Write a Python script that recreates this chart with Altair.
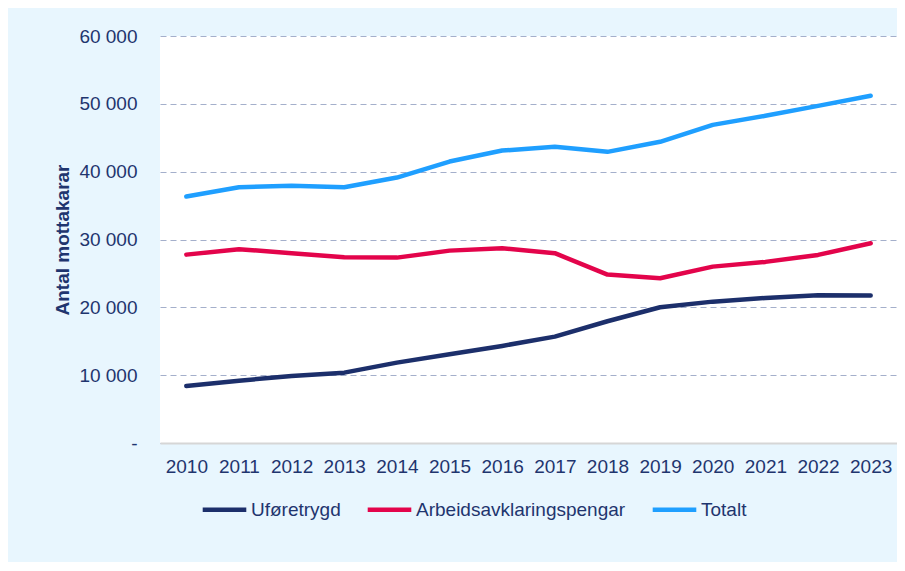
import altair as alt
import pandas as pd

years = [2010, 2011, 2012, 2013, 2014, 2015, 2016, 2017, 2018, 2019, 2020, 2021, 2022, 2023]
uforetrygd = [8410, 9190, 9880, 10370, 11850, 13080, 14310, 15680, 17950, 20010, 20840, 21390, 21780, 21730]
aap = [27770, 28570, 27980, 27390, 27330, 28360, 28710, 27980, 24830, 24290, 26000, 26700, 27730, 29450]
totalt = [36330, 37710, 37910, 37710, 39130, 41490, 43110, 43660, 42920, 44400, 46900, 48230, 49700, 51180]

series_names = ["Uføretrygd", "Arbeidsavklaringspengar", "Totalt"]
series_values = [uforetrygd, aap, totalt]
series_colors = ["#1C2F6B", "#E3044B", "#1F9FFF"]
y_ticks = [0, 10000, 20000, 30000, 40000, 50000, 60000]

rows = []
for name, vals in zip(series_names, series_values):
    for y, v in zip(years, vals):
        rows.append({"year": str(y), "serie": name, "value": v})
df = pd.DataFrame(rows)

TEXT = "#1F356E"
FONT = "Liberation Sans"
NB = "\u00a0"

chart = alt.Chart(df).mark_line(
    strokeWidth=4.5, strokeCap="round", strokeJoin="round"
).encode(
    x=alt.X("year:O", title=None, scale=alt.Scale(padding=0.5),
            axis=alt.Axis(labelAngle=0, ticks=False, domain=True,
                          domainColor="#D6D6D6", domainWidth=2,
                          labelPadding=14, grid=False)),
    y=alt.Y("value:Q", title="Antal mottakarar",
            scale=alt.Scale(domain=[0, 60000], nice=False),
            axis=alt.Axis(values=y_ticks, ticks=False, domain=False,
                          labelPadding=23, titlePadding=6,
                          labelExpr=f"datum.value == 0 ? '-{NB}{NB}' : (datum.value/1000) + ' 000'",
                          grid=True, gridDash=[6, 4], gridColor="#A4AFCB",
                          gridWidth=1.2)),
    color=alt.Color("serie:N", sort=series_names,
                    scale=alt.Scale(domain=series_names, range=series_colors),
                    legend=alt.Legend(title=None, orient="none", direction="horizontal",
                                      legendX=40, legendY=449,
                                      symbolType="stroke", symbolSize=1900,
                                      symbolStrokeWidth=4.5, labelOffset=2,
                                      labelLimit=0, columnPadding=17)),
).properties(
    width=737, height=407,
    autosize=alt.AutoSizeParams(type="none"),
    padding={"left": 152, "top": 28, "right": 0, "bottom": 119},
    background="#E8F6FE",
).configure_view(
    fill="white", stroke=None
).configure_axis(
    labelFont=FONT, labelFontSize=19, labelColor=TEXT,
    titleFont=FONT, titleFontSize=19, titleColor=TEXT, titleFontWeight="bold",
).configure_legend(
    labelFont=FONT, labelFontSize=19, labelColor=TEXT,
)

chart.save("out.html", embed_options={"renderer": "svg", "actions": False})
